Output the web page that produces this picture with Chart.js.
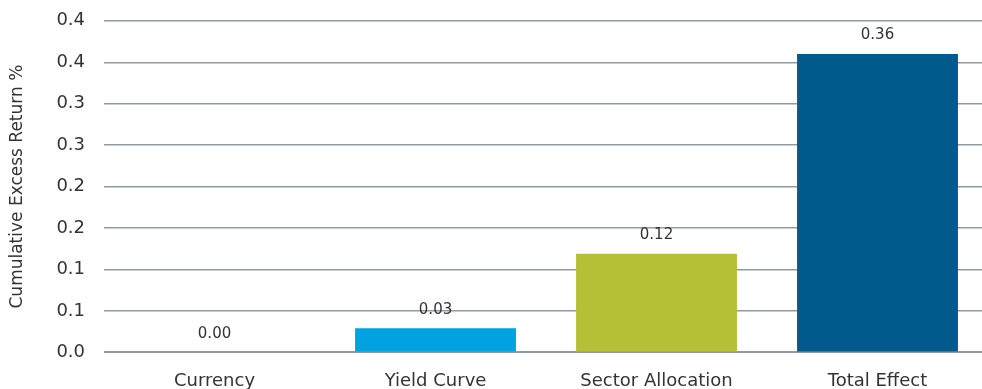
<!DOCTYPE html>
<html>
<head>
<meta charset="utf-8">
<script src="https://cdn.jsdelivr.net/npm/chart.js@4"></script>
<style>
  html, body { margin: 0; padding: 0; background: #fff; overflow: hidden; }
  #wrap { width: 988px; height: 411px; margin-top: -9px; }
</style>
</head>
<body>
<div id="wrap"><canvas id="attrChart"></canvas></div>
<script>
// chart data
const categories = ['Currency', 'Yield Curve', 'Sector Allocation', 'Total Effect'];
const excessReturn = [0.00, 0.029, 0.119, 0.36];
const valueLabels = ['0.00', '0.03', '0.12', '0.36'];
const barColors = ['#00a3e0', '#00a3e0', '#b5c035', '#005a8c'];
const yTickLabels = ['0.0', '0.1', '0.1', '0.2', '0.2', '0.3', '0.3', '0.4', '0.4'];

const textColor = '#333333';
const fontFamily = '"DejaVu Sans", sans-serif';

// draws the value above each bar
const valueLabelPlugin = {
  id: 'valueLabels',
  afterDatasetsDraw(chart) {
    const ctx = chart.ctx;
    const meta = chart.getDatasetMeta(0);
    ctx.save();
    ctx.font = '15px ' + fontFamily;
    ctx.fillStyle = textColor;
    ctx.textAlign = 'center';
    ctx.textBaseline = 'bottom';
    meta.data.forEach((bar, i) => {
      ctx.fillText(valueLabels[i], bar.x, bar.y - 11);
    });
    ctx.restore();
  }
};

new Chart(document.getElementById('attrChart'), {
  type: 'bar',
  data: {
    labels: categories,
    datasets: [{
      data: excessReturn,
      backgroundColor: barColors,
      categoryPercentage: 1,
      barPercentage: 0.728
    }]
  },
  options: {
    responsive: true,
    maintainAspectRatio: false,
    animation: false,
    layout: { padding: { top: 3, left: 7, right: 0, bottom: 0 } },
    plugins: {
      legend: { display: false },
      tooltip: { enabled: false }
    },
    scales: {
      x: {
        grid: { display: false },
        border: { display: false },
        ticks: {
          color: textColor,
          padding: 10,
          font: { family: fontFamily, size: 18 }
        }
      },
      y: {
        min: 0,
        max: 0.4,
        border: { display: false },
        grid: {
          color: '#8e9aa6',
          lineWidth: c => (c.index === 0 ? 2 : 1.5),
          drawTicks: false
        },
        ticks: {
          stepSize: 0.05,
          padding: 19,
          color: textColor,
          font: { family: fontFamily, size: 18 },
          callback: (v, i) => yTickLabels[i]
        },
        title: {
          display: true,
          text: 'Cumulative Excess Return %',
          color: textColor,
          padding: { top: 0, bottom: 10 },
          font: { family: fontFamily, size: 17 }
        }
      }
    }
  },
  plugins: [valueLabelPlugin]
});
</script>
</body>
</html>
